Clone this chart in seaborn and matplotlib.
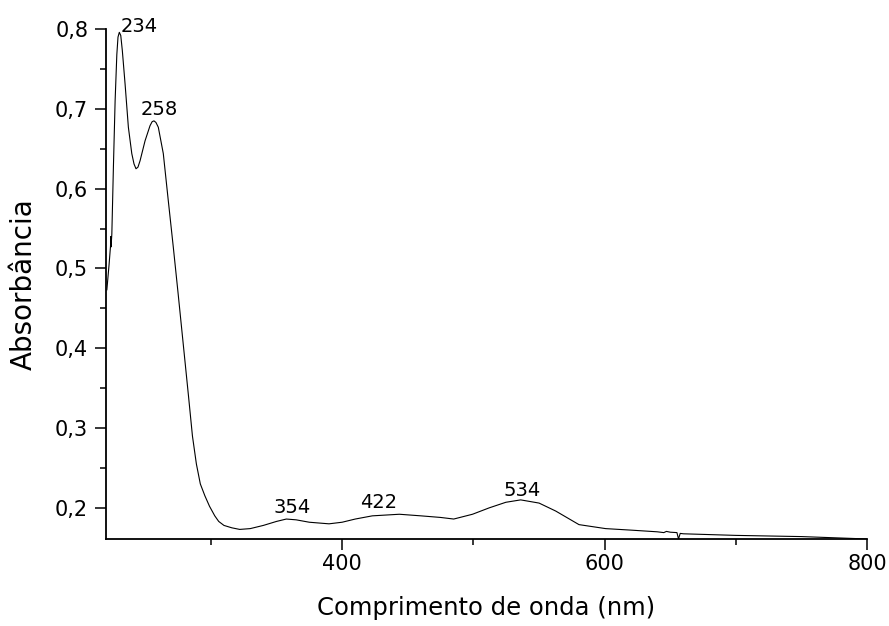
import pandas as pd
import numpy as np
import matplotlib
matplotlib.use("Agg")
import matplotlib.pyplot as plt
from matplotlib.ticker import FuncFormatter, MultipleLocator
import seaborn as sns

# espectro UV-Vis
comprimento = [220.8, 222.5, 223.6, 223.8, 224.0, 224.6, 225.8, 227.1, 228.4, 229.3,
               230.3, 231.4, 232.6, 234.7, 237.2, 239.8, 241.5, 243.0, 244.5, 246.1,
               249.9, 253.7, 255.3, 256.7, 258.2, 260.0, 263.8, 267.6, 271.4, 275.0,
               279.0, 283.0, 286.0, 289.0, 292.0, 295.5, 299.0, 303.0, 306.0, 310.0,
               316.0, 322.0, 330.0, 340.0, 350.0, 357.5, 365.0, 375.0, 390.0, 400.0,
               410.0, 423.0, 443.6, 460.0, 475.0, 485.0, 499.3, 512.0, 524.7, 536.0,
               550.0, 562.7, 580.4, 600.7, 621.0, 640.0, 645.0, 647.0, 650.0, 655.0,
               656.2, 657.5, 660.0, 700.0, 750.0, 800.0]
absorbancia = [0.473, 0.505, 0.528, 0.540, 0.527, 0.543, 0.627, 0.710, 0.768, 0.790,
               0.796, 0.792, 0.773, 0.731, 0.677, 0.644, 0.631, 0.625, 0.627, 0.635,
               0.660, 0.679, 0.684, 0.685, 0.683, 0.677, 0.644, 0.585, 0.527, 0.470,
               0.405, 0.340, 0.290, 0.255, 0.230, 0.215, 0.202, 0.190, 0.183, 0.178,
               0.175, 0.173, 0.174, 0.178, 0.183, 0.186, 0.185, 0.182, 0.180, 0.182,
               0.186, 0.190, 0.192, 0.190, 0.188, 0.186, 0.192, 0.200, 0.207, 0.210,
               0.206, 0.196, 0.179, 0.174, 0.172, 0.170, 0.169, 0.1705, 0.1695, 0.169,
               0.161, 0.168, 0.1675, 0.1655, 0.164, 0.161]

picos = ["234", "258", "354", "422", "534"]
picos_x = [231.6, 261.0, 361.6, 427.7, 537.0]
picos_y = [0.796, 0.692, 0.194, 0.200, 0.2145]
picos_ha = ["left", "center", "center", "center", "center"]

df = pd.DataFrame({"comprimento": comprimento, "absorbancia": absorbancia})

sns.set_style("ticks")
plt.rcParams['font.family'] = ['DejaVu Sans']
plt.rcParams['text.color'] = 'black'
plt.rcParams['axes.labelcolor'] = 'black'
plt.rcParams['xtick.color'] = 'black'
plt.rcParams['ytick.color'] = 'black'

fig = plt.figure(figsize=(8.89, 6.26), dpi=100)
ax = fig.add_axes([0.119, 0.139, 0.8566, 0.8145])

sns.lineplot(data=df, x="comprimento", y="absorbancia", color="black",
             linewidth=0.8, sort=False, ax=ax)

for txt, px, py, ha in zip(picos, picos_x, picos_y, picos_ha):
    ax.text(px, py, txt, ha=ha, va="baseline", fontsize=14, color="black")

ax.set_xlim(220, 800)
ax.set_ylim(0.161, 0.8)
ax.xaxis.set_major_locator(MultipleLocator(200))
ax.xaxis.set_minor_locator(MultipleLocator(100))
ax.yaxis.set_major_locator(MultipleLocator(0.1))
ax.yaxis.set_minor_locator(MultipleLocator(0.05))
ax.yaxis.set_major_formatter(FuncFormatter(lambda v, p: f"{v:.1f}".replace(".", ",")))

ax.tick_params(which="major", length=7.7, width=1.1, labelsize=15,
               color="black", labelcolor="black")
ax.tick_params(axis="y", which="major", pad=5)
ax.tick_params(axis="x", which="major", pad=3)
ax.tick_params(which="minor", length=4.1, width=1.1, color="black")
for s in ["left", "bottom"]:
    ax.spines[s].set_linewidth(1.3)
    ax.spines[s].set_color("black")
sns.despine(ax=ax)

ax.set_xlabel("Comprimento de onda (nm)", fontsize=17.5, labelpad=16, color="black")
ax.set_ylabel("Absorbância", fontsize=20, labelpad=12, color="black")

fig.savefig("out.png", dpi=100)
